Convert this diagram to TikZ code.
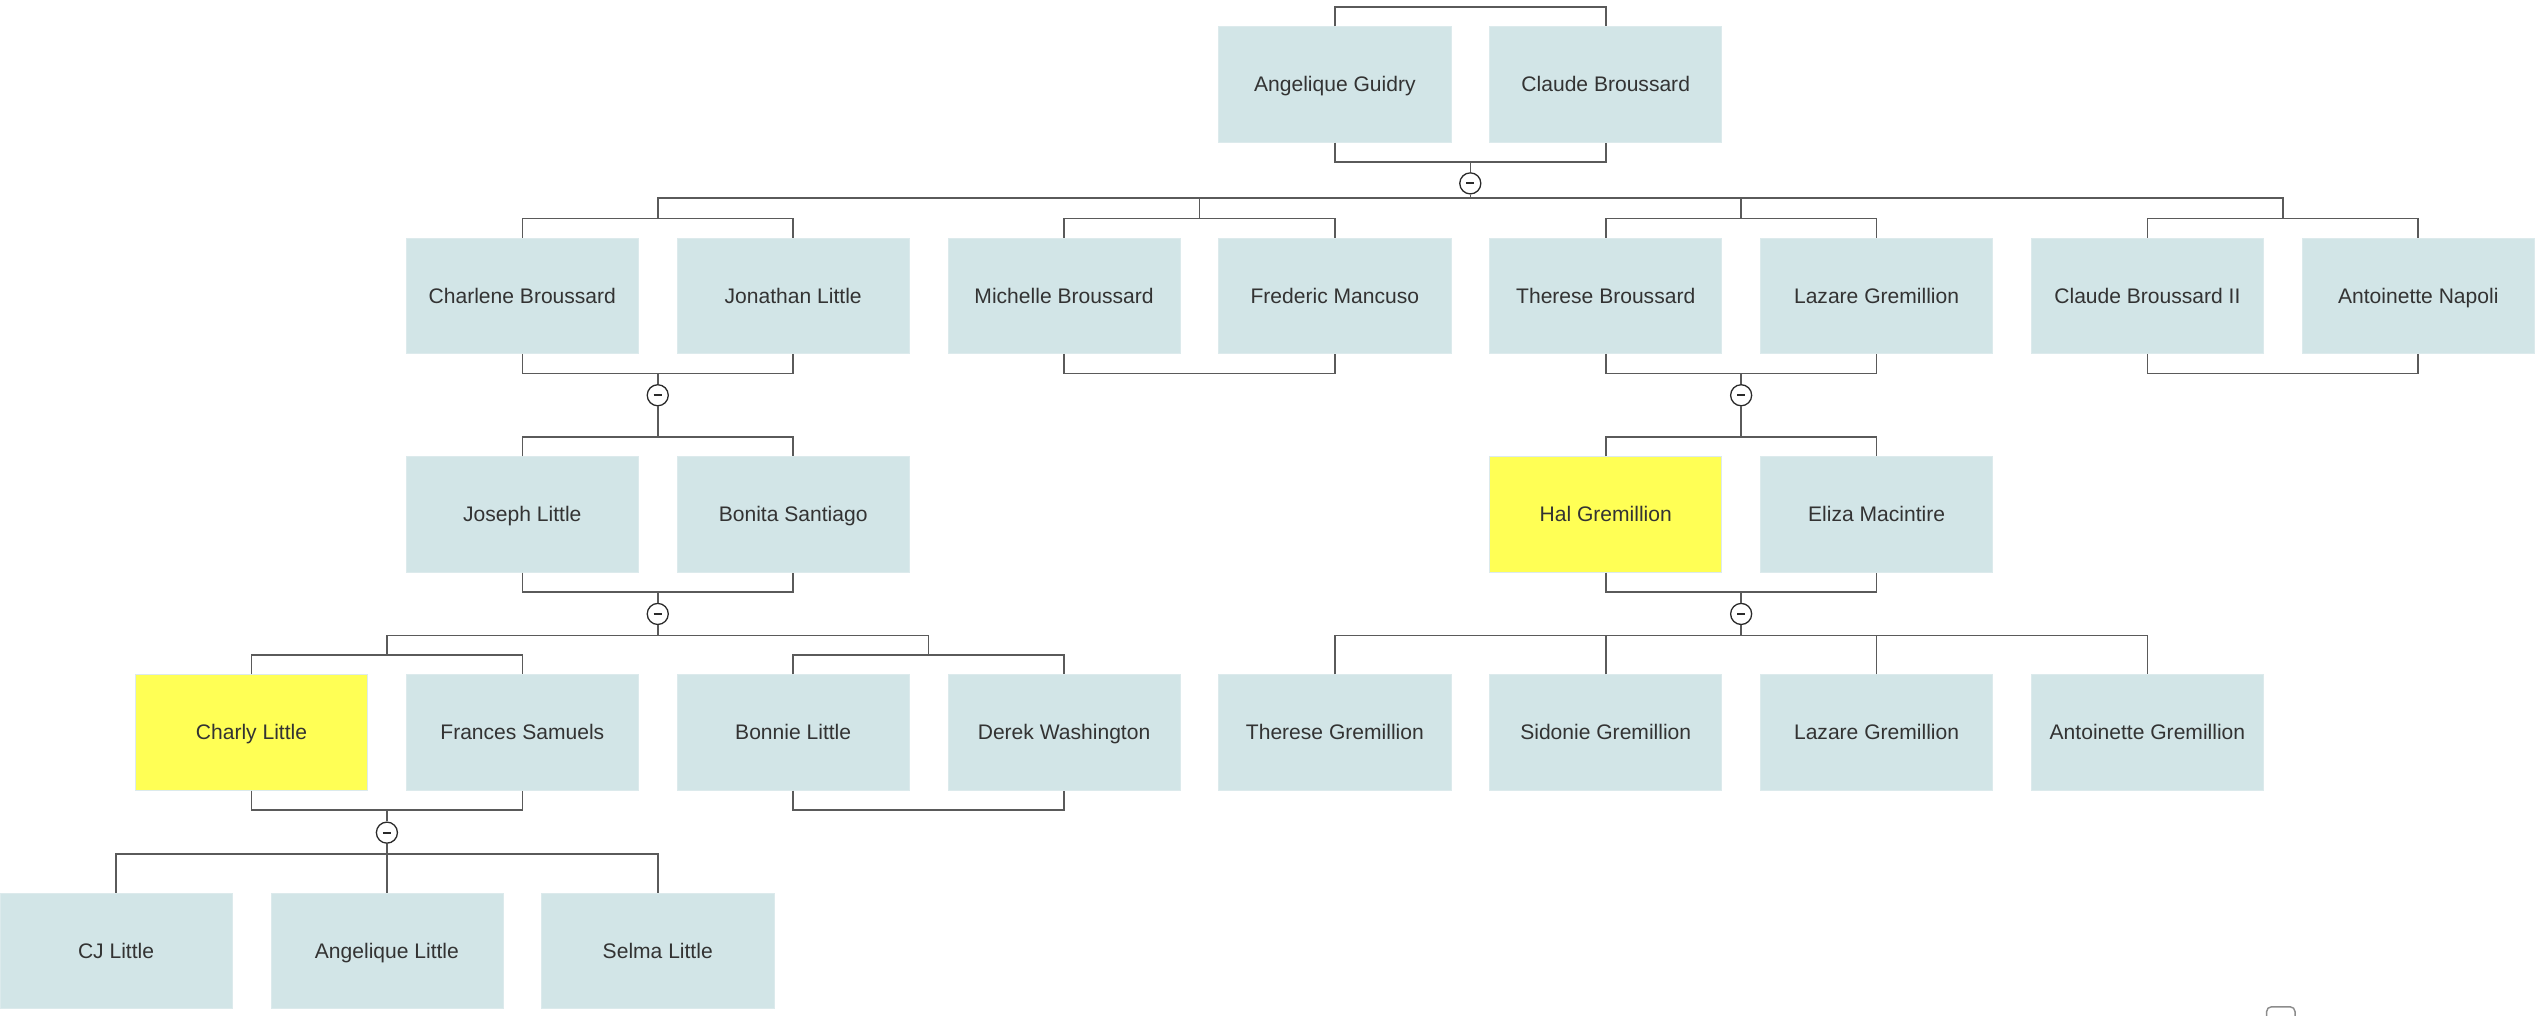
\documentclass[tikz,border=0pt]{standalone}
\usepackage{fontspec}
\setmainfont{Liberation Sans}
\usetikzlibrary{calc}
\definecolor{boxblue}{HTML}{D2E5E7}
\definecolor{boxedge}{HTML}{DCEAEC}
\definecolor{selfyellow}{HTML}{FFFF55}
\definecolor{textgray}{HTML}{333333}
\definecolor{linegray}{HTML}{5A5A5A}
\definecolor{knotgray}{HTML}{2A2A2A}
\begin{document}
\begin{tikzpicture}[
        x=83.6pt, y=-1pt,
        person/.style={rectangle, fill=boxblue, draw=boxedge, line width=0.4pt,
            minimum width=143.3pt, minimum height=71.3pt, inner sep=0pt,
            text height=10pt, text depth=1pt,
            text=textgray, font=\fontsize{13}{15}\selectfont},
        self/.style={person, fill=selfyellow},
        link/.style={draw=linegray, line width=1pt},
        knot/.style={circle, draw=knotgray, fill=white, line width=0.8pt,
            minimum size=13pt, inner sep=0pt,
            path picture={\draw[knotgray, line width=1.2pt]
                ([xshift=-2.5pt]path picture bounding box.center) --
                ([xshift=2.5pt]path picture bounding box.center);}}
    ]
        \useasboundingbox (-0.857,0) rectangle (17.899,627);
        \node[person] (ag) at (9, 52.15) {Angelique Guidry};
        \node[person] (cb) at (11, 52.15) {Claude Broussard};
        \node[person] (chb) at (3, 182.65) {Charlene Broussard};
        \node[person] (jol) at (5, 182.65) {Jonathan Little};
        \node[person] (mib) at (7, 182.65) {Michelle Broussard};
        \node[person] (frm) at (9, 182.65) {Frederic Mancuso};
        \node[person] (thb) at (11, 182.65) {Therese Broussard};
        \node[person] (lag) at (13, 182.65) {Lazare Gremillion};
        \node[person] (cb2) at (15, 182.65) {Claude Broussard II};
        \node[person] (anp) at (17, 182.65) {Antoinette Napoli};
        \node[person] (jsl) at (3, 317.65) {Joseph Little};
        \node[person] (bos) at (5, 317.65) {Bonita Santiago};
        \node[self] (hag) at (11, 317.65) {Hal Gremillion};
        \node[person] (elm) at (13, 317.65) {Eliza Macintire};
        \node[self] (chl) at (1, 452.15) {Charly Little};
        \node[person] (frs) at (3, 452.15) {Frances Samuels};
        \node[person] (bol) at (5, 452.15) {Bonnie Little};
        \node[person] (dew) at (7, 452.15) {Derek Washington};
        \node[person] (thg) at (9, 452.15) {Therese Gremillion};
        \node[person] (sig) at (11, 452.15) {Sidonie Gremillion};
        \node[person] (lag2) at (13, 452.15) {Lazare Gremillion};
        \node[person] (ang) at (15, 452.15) {Antoinette Gremillion};
        \node[person] (cjl) at (0, 586.95) {CJ Little};
        \node[person] (anl) at (2, 586.95) {Angelique Little};
        \node[person] (sel) at (4, 586.95) {Selma Little};
        \foreach \a/\b in {ag/cb, chb/jol, mib/frm, thb/lag, cb2/anp,
                jsl/bos, hag/elm, chl/frs, bol/dew} {
            \coordinate (\a-up) at ($(\a.north)!0.5!(\b.north)+(0,-12)$);
            \coordinate (\a-dn) at ($(\a.south)!0.5!(\b.south)+(0,12)$);
            \draw[link] (\a.north) |- (\a-up) -| (\b.north);
            \draw[link] (\a.south) |- (\a-dn) -| (\b.south);
        }
        \node[knot] (k1) at ($(ag-dn)+(0,13.2)$) {};
        \draw[link] (chb-up) -- ++(0,-12.5) coordinate (bar1) -| (cb2-up);
        \draw[link] (mib-up) -- (mib-up |- bar1);
        \draw[link] (thb-up) -- (thb-up |- bar1);
        \draw[link] (ag-dn) -- (k1) -- (k1 |- bar1);
        \node[knot] (k2) at ($(chb-dn)+(0,13.5)$) {};
        \draw[link] (chb-dn) -- (k2) -- (jsl-up);
        \node[knot] (k3) at ($(thb-dn)+(0,13.5)$) {};
        \draw[link] (thb-dn) -- (k3) -- (hag-up);
        \node[knot] (k4) at ($(jsl-dn)+(0,13.5)$) {};
        \draw[link] (chl-up) -- ++(0,-12) coordinate (bar4) -| (bol-up);
        \draw[link] (jsl-dn) -- (k4) -- (k4 |- bar4);
        \node[knot] (k5) at ($(hag-dn)+(0,13.5)$) {};
        \draw[link] (thg.north) -- ++(0,-24) coordinate (bar5) -| (ang.north);
        \draw[link] (lag2.north) -- (lag2.north |- bar5);
        \draw[link] (hag-dn) -- (k5) -- (k5 |- bar5);
        \draw[link] (sig.north) -- (sig.north |- bar5);
        \node[knot] (k6) at ($(chl-dn)+(0,14)$) {};
        \draw[link] (cjl.north) -- ++(0,-24) -| (sel.north);
        \draw[link] (chl-dn) -- (k6) -- (anl.north);
        \draw[draw=gray!90, line width=0.9pt, rounded corners=3pt] (15.88,621.5) rectangle (16.09,640);
    \end{tikzpicture}
\end{document}
